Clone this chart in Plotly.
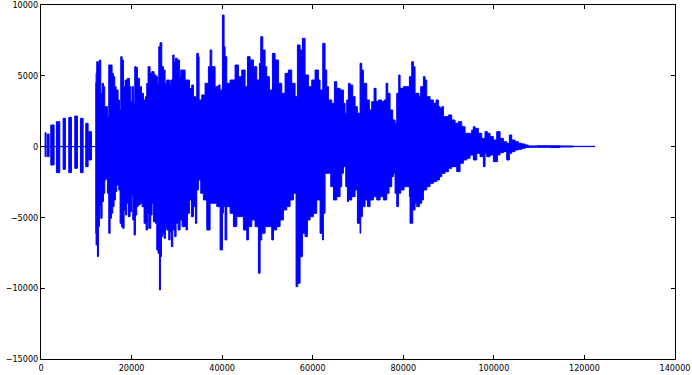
import plotly.graph_objects as go

# ---- data (sample index vs. amplitude envelope) ----
# short pre-roll bursts: start, end, positive peak, negative peak
burst_start = [906, 1421, 2157, 3408, 4880, 6131, 7456, 8707, 9885, 10547]
burst_end = [1126, 1789, 2893, 4144, 5395, 6720, 8045, 9296, 10400, 11136]
burst_top = [984, 890, 1525, 1760, 1996, 2066, 2160, 1996, 1643, 1055]
burst_bottom = [-710, -710, -1298, -1840, -1604, -1840, -1534, -1840, -1416, -946]

# main signal: upper envelope
upper_x = [12092, 12166, 12313, 12681, 12902, 13196, 13490, 13785, 14079, 14374, 14668, 14962, 15404, 15698, 15992, 16288, 16582,
           17023, 17318, 17612, 17906, 18201, 18569, 19084, 19526, 19820, 20115, 20409, 20703, 20998, 21292, 21734, 22175, 22617,
           23059, 23353, 23647, 24089, 24457, 24972, 25414, 25708, 26003, 26297, 26665, 27033, 27401, 27769, 28358, 28652, 29094,
           29388, 29682, 30124, 30566, 30860, 31449, 31817, 32332, 32774, 33289, 33657, 34099, 34393, 34761,
           34908, 35497, 36233, 36969, 37337, 37705, 38441, 39177, 39545, 40060,
           40428, 40649, 41017, 41753, 42121, 42857, 43593, 44329, 45065, 45580, 46169, 46905, 47641, 48230, 48524, 48966, 49481, 49849, 50438,
           51100, 51689, 52425, 53161, 53897, 54633, 55369, 56105, 56620, 57209, 57724, 58313, 59049, 59785, 60521,
           61257, 61625, 62214, 62729, 63097, 63465, 64201, 64790, 65305, 66041, 66777, 67145, 67513, 67881, 68249, 68838, 69353, 69868, 70457, 70825,
           71193, 71929, 72518, 73033, 73548, 73989, 74505, 75241, 75756, 76198, 76566, 77081, 77670, 78185, 78553, 78994, 79289, 80025, 80761, 81350,
           81865, 82233, 82601, 82969, 83484, 83852, 84441, 84809, 85177, 85913, 86649, 87238, 87753, 88121, 88489, 88857, 89593, 89961, 90697, 91433,
           92169, 92905, 93641, 94377, 95113, 95481, 95849, 96585, 97321, 98057, 98572,
           99161, 99897, 100633, 101369, 102105, 102841, 103430, 103945, 104681, 105417, 106153, 106889, 107625, 109465, 112409, 114617, 117561, 122345]
upper_y = [4500, 5173, 5997, 5644, 6115, 3761, 4467, 4232, 2820, 2820, 2114, 5761, 5761, 5173, 4938, 4232, 3997,
           3291, 2585, 6350, 6115, 4232, 4702, 4820, 4232, 3173, 4232, 3056, 5644, 5597, 4820, 4232, 3762, 3291,
           3526, 4467, 5644, 5173, 5291, 5056, 4938, 4467, 7056, 7338, 5644, 5408, 4467, 4702, 4350, 4702, 6467,
           5997, 6232, 6114, 4938, 5408, 5408, 4702, 4702, 4114, 4350, 3526, 3526, 6585, 6350,
           3291, 3644, 4468, 5644, 6820, 5644, 4232, 4350, 3997, 9291,
           7056, 6350, 4468, 4703, 4703, 5762, 4938, 5409, 4232, 6350, 6115, 5644, 4703, 5879, 7762, 6820, 5644, 4938, 3997,
           6585, 6115, 4468, 3762, 5173, 5409, 4468, 3526, 7174, 6820, 7644, 5056, 4232, 4703, 5409,
           4700, 3997, 7291, 5409, 4232, 3291, 3056, 4585, 4115, 3997, 3056, 2350, 3291, 4468, 4350, 3526, 2820, 2350, 5879, 5409,
           4468, 3291, 2585, 3173, 4115, 3173, 3291, 3173, 3291, 4468, 3762, 2585, 1879, 1644, 3762, 5056, 4115, 4232, 4232, 4938,
           5997, 5644, 3762, 3762, 3526, 4232, 4938, 4703, 3526, 3291, 3056, 3291, 2820, 2703, 2820, 2115, 2115, 2232, 1879, 1644,
           1761, 1409, 938, 938, 1173, 1409, 1291, 938, 585, 1056, 938,
           703, 467, 1055, 585, 349, 232, 820, 467, 349, 232, 185, 114, 44, 60, 60, 44, 20, 0]

# main signal: lower envelope
lower_x = [12092, 12166, 12460, 12681, 12902, 13196, 13490, 13785, 14079, 14374, 14668, 14962, 15257, 15551, 15845, 16140, 16435,
           16729, 17171, 17465, 17760, 18054, 18348, 18643, 18937, 19305, 19673, 19967, 20262, 20556, 20850, 21145, 21439, 21881,
           22322, 22764, 23206, 23500, 23794, 24236, 24530, 24825, 25267, 25561, 25855, 26150, 26371, 26591, 26886, 27181, 27475,
           27769, 28211, 28505, 28799, 29094, 29535, 29830, 30271, 30713, 31155, 31596, 32038, 32332, 32774, 33216, 33657, 34099, 34393,
           34761, 35276, 35865, 36601, 37337, 38073, 38809, 39545, 40060,
           40281, 40649, 41017, 41753, 42489, 43225, 43961, 44697, 45433, 45801, 46537, 47273, 48009, 48377, 48745, 49481, 50217,
           50953, 51321, 52057, 52793, 53529, 54265, 55001, 55737, 56325, 56693, 57209, 57724, 58313, 58828, 59417, 60153, 60889,
           61625, 62140, 62361, 62729, 63465, 63980, 64569, 64937, 65305, 66041, 66409, 66777, 67292, 67660, 67881, 68617, 69353, 69868,
           70457, 70604, 70972, 71561, 72076, 72665, 73401, 74137, 74873, 75609, 76345, 76860, 77449, 77817, 78185, 78553, 78921, 79436,
           80172, 80761, 81350,
           81497, 81865, 82086, 82601, 82969, 83558, 84073, 84441, 85177, 85913, 86649, 87385, 87974, 88489, 89225, 89961, 90697, 91801,
           92537, 93273, 94009, 94745, 95481, 96217, 96953, 97689, 98057, 98425,
           99161, 99897, 100780, 101369, 102105, 102841, 103430, 103945, 104681, 105417, 106153, 106889, 107993, 109465, 112409, 114617, 117561, 122345]
lower_y = [-4000, -6123, -6946, -7770, -5652, -4240, -5064, -3887, -3299, -2358, -2240, -3299, -6123, -5064, -4711, -4240, -3770,
           -3181, -2711, -3064, -5417, -5652, -5770, -4476, -4829, -4005, -4946, -4593, -3417, -5182, -6240, -4829, -4240, -4123,
           -4005, -4240, -5417, -5888, -4711, -5770, -4829, -4005, -5300, -5417, -7299, -7535, -10123, -7770, -6358, -6123, -6476,
           -5652, -5888, -6593, -6005, -7064, -5888, -6358, -5417, -5888, -5182, -5652, -5652, -5888, -4711, -3770, -4946, -4240, -5417,
           -3062, -2356, -3297, -3768, -5886, -4003, -4003, -4239, -7298,
           -4709, -4239, -6592, -4239, -4709, -5650, -4945, -4945, -5886, -6592, -5650, -5180, -5650, -8945, -6592, -6121, -5650,
           -5650, -6592, -5886, -5650, -5180, -4474, -4239, -3768, -3297, -9886, -9651, -7768, -6121, -6356, -5180, -4945, -4709,
           -3768, -6121, -6592, -4709, -1886, -1886, -2827, -3768, -3768, -3533, -2827, -1886, -1415, -2827, -3886, -3768, -3533, -3062,
           -5415, -6121, -4945, -4239, -3768, -4239, -3768, -3533, -3768, -3533, -3768, -3297, -2827, -2121, -1886, -3297, -4239, -3297,
           -3062, -2827, -2827,
           -3533, -5415, -5415, -4474, -4003, -4239, -4003, -3768, -3062, -2827, -2592, -2474, -2356, -2121, -1886, -1768, -1533, -1415,
           -1768, -1180, -944, -827, -600, -944, -474, -709, -1415, -474,
           -710, -592, -1062, -592, -427, -356, -945, -474, -356, -235, -188, -118, -70, -47, -47, -70, -24, 0]

x_ticks = [0, 20000, 40000, 60000, 80000, 100000, 120000, 140000]
y_ticks = [-15000, -10000, -5000, 0, 5000, 10000]

# ---- build the closed outline of the waveform ----
px, py = [0], [0]
for s, e, t in zip(burst_start, burst_end, burst_top, strict=True):
    px += [s, s, e, e]
    py += [0, t, t, 0]
px.append(upper_x[0]); py.append(0)
for x, y in zip(upper_x, upper_y, strict=True):
    px.append(x); py.append(y)
for x, y in reversed(list(zip(lower_x, lower_y, strict=True))):
    px.append(x); py.append(y)
px.append(lower_x[0]); py.append(0)
for s, e, b in reversed(list(zip(burst_start, burst_end, burst_bottom, strict=True))):
    px += [e, e, s, s]
    py += [0, b, b, 0]
px.append(0); py.append(0)

fig = go.Figure()
fig.add_trace(go.Scatter(x=px, y=py, mode="lines", fill="toself",
                         fillcolor="#0000ff", line=dict(color="#0000ff", width=1, shape="hv"),
                         hoverinfo="skip", showlegend=False))

font = dict(family="DejaVu Sans Condensed, DejaVu Sans, sans-serif", size=9, color="#000000")
axis_common = dict(showgrid=False, zeroline=False, showline=True, linecolor="#000000", linewidth=1,
                   mirror="ticks", ticks="inside", ticklen=4, tickcolor="#000000", tickwidth=1,
                   tickfont=font, automargin=False, ticklabeloverflow="allow")
fig.update_xaxes(range=[0, 140000], tickvals=x_ticks, ticktext=[str(v) for v in x_ticks], **axis_common)
fig.update_yaxes(range=[-15000, 10000], tickvals=y_ticks,
                 ticktext=[str(v).replace("-", "\u2212") for v in y_ticks], **axis_common)
fig.update_layout(width=692, height=375, margin=dict(l=41, r=17, t=5, b=16),
                  paper_bgcolor="#ffffff", plot_bgcolor="#ffffff", showlegend=False)
fig.write_html("out.html")
